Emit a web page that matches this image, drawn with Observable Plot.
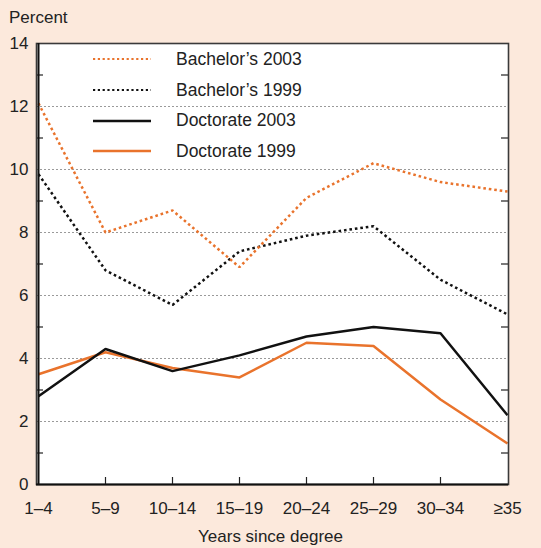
<!DOCTYPE html>
<html><head><meta charset="utf-8">
<script src="https://cdn.jsdelivr.net/npm/d3@7"></script>
<script src="https://cdn.jsdelivr.net/npm/@observablehq/plot@0.6"></script>
<style>
body{margin:0;background:#fce9dc;font-family:"Liberation Sans",Arial,Helvetica,sans-serif;color:#222;}
#wrap{position:relative;width:541px;height:548px;overflow:hidden;}
#wrap > svg{position:absolute;left:0;top:0;}
.ylab{position:absolute;left:9px;top:8px;font-size:17px;}
.xlab{position:absolute;left:0;width:541px;text-align:center;top:527px;font-size:17px;}
.legend{position:absolute;left:93px;top:44px;}
.row{display:flex;align-items:center;height:30.7px;font-size:17.5px;}
.row svg{margin-right:25px;}
</style></head><body>
<div id="wrap"></div>
<script>
const categories = ["1–4","5–9","10–14","15–19","20–24","25–29","30–34","≥35"];
const bachelors2003 = [12.1, 8.0, 8.7, 6.9, 9.1, 10.2, 9.6, 9.3];
const bachelors1999 = [9.85, 6.8, 5.7, 7.4, 7.9, 8.2, 6.5, 5.4];
const doctorate2003 = [2.8, 4.3, 3.6, 4.1, 4.7, 5.0, 4.8, 2.2];
const doctorate1999 = [3.5, 4.2, 3.7, 3.4, 4.5, 4.4, 2.7, 1.3];
const seriesNames = ["Bachelor’s 2003","Bachelor’s 1999","Doctorate 2003","Doctorate 1999"];
const yTicks = [0,2,4,6,8,10,12,14];
const gridValues = [2,4,6,8,10,12];
const minorTicks = [1,3,5,7,9,11,13];

const ORANGE = "#e9732c";
const styles = [
  {stroke: ORANGE, dash: "2.6,2.9"},
  {stroke: "#111", dash: "2.6,2.9"},
  {stroke: "#111", dash: null},
  {stroke: ORANGE, dash: null}
];
const valuesList = [bachelors2003, bachelors1999, doctorate2003, doctorate1999];

const W = 541, H = 548, mL = 36, mR = 33, mT = 43, mB = 64;
const plotW = W - mL - mR, plotH = H - mT - mB;

const rows = seriesNames.flatMap((name, s) => categories.map((c, i) => ({series: name, cat: c, value: valuesList[s][i]})));

const lineMarks = seriesNames.map((name, s) => Plot.line(rows.filter(d => d.series === name), {
  x: "cat", y: "value", stroke: styles[s].stroke, strokeWidth: 2.5,
  strokeDasharray: styles[s].dash, strokeLinecap: "butt", strokeLinejoin: "miter"
})).reverse();

const chart = Plot.plot({
  width: W, height: H,
  marginLeft: mL, marginRight: mR, marginTop: mT, marginBottom: mB,
  style: {background: "transparent", fontFamily: "'Liberation Sans', Arial, sans-serif", fontSize: "17px", color: "#222"},
  x: {type: "point", domain: categories, padding: 0},
  y: {domain: [0, 14]},
  marks: [
    Plot.frame({fill: "white", stroke: null}),
    Plot.ruleY(gridValues, {stroke: "#9a9a9a", strokeDasharray: "2,2", strokeWidth: 1}),
    Plot.tickY(minorTicks, {y: d => d, insetRight: plotW - 7, stroke: "#222", strokeWidth: 1.2}),
    Plot.tickY(minorTicks, {y: d => d, insetLeft: plotW - 7, stroke: "#222", strokeWidth: 1.2}),
    Plot.tickX(categories.slice(1, -1), {x: d => d, insetTop: plotH - 7, stroke: "#222", strokeWidth: 1.2}),
    ...lineMarks,
    Plot.frame({stroke: "#3a3a3a", strokeWidth: 1.6}),
    Plot.ruleX([categories[0]], {stroke: "#111", strokeWidth: 2}),
    Plot.ruleY([0], {stroke: "#111", strokeWidth: 2}),
    Plot.axisY({ticks: yTicks, tickSize: 0, tickPadding: 8, fontSize: 17, label: null, tickFormat: d => String(d)}),
    Plot.axisX({tickSize: 0, tickPadding: 17, fontSize: 17, label: null})
  ]
});

const wrap = document.getElementById("wrap");
wrap.appendChild(chart);

const ylab = document.createElement("div");
ylab.className = "ylab"; ylab.textContent = "Percent";
wrap.appendChild(ylab);
const xlab = document.createElement("div");
xlab.className = "xlab"; xlab.textContent = "Years since degree";
wrap.appendChild(xlab);

const legend = document.createElement("div");
legend.className = "legend";
seriesNames.forEach((name, s) => {
  const row = document.createElement("div");
  row.className = "row";
  const dash = styles[s].dash ? `stroke-dasharray="2.2,2.6"` : "";
  row.innerHTML = `<svg width="58" height="10"><line x1="0" x2="58" y1="5" y2="5" stroke="${styles[s].stroke}" stroke-width="${styles[s].dash ? 2.2 : 2.5}" ${dash}/></svg><span>${name}</span>`;
  legend.appendChild(row);
});
wrap.appendChild(legend);
</script>
</body></html>
